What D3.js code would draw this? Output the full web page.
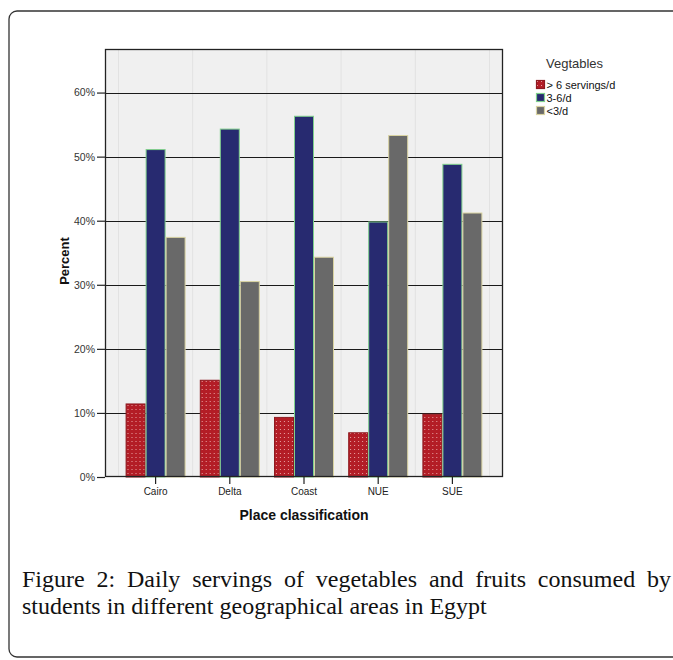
<!DOCTYPE html>
<html>
<head>
<meta charset="utf-8">
<script src="https://cdn.jsdelivr.net/npm/d3@7"></script>
<style>
  body { margin: 0; background: #fff; }
  svg { display: block; }
</style>
</head>
<body>
<div id="chart"></div>
<script>
// Data
const places = ["Cairo", "Delta", "Coast", "NUE", "SUE"];
const seriesNames = ["> 6 servings/d", "3-6/d", "<3/d"];
const overSix = [11.4, 15.1, 9.3, 6.9, 9.8];
const threeToSix = [51.1, 54.3, 56.3, 39.8, 48.8];
const underThree = [37.4, 30.5, 34.3, 53.3, 41.2];
const yTicks = [0, 10, 20, 30, 40, 50, 60];
const legendTitle = "Vegtables";
const xTitle = "Place classification";
const yTitle = "Percent";
const captionLines = [
    "Figure 2: Daily servings of vegetables and fruits consumed by",
    "students in different geographical areas in Egypt"
];

const seriesValues = [overSix, threeToSix, underThree];
const fills = ["url(#dots)", "#272a70", "#696969"];
const strokes = ["#8c1a20", "#7fd08c", "#d9d3a2"];

const W = 673, H = 660;
const plot = {left: 105, right: 503, top: 49, bottom: 477};
const sans = "'Liberation Sans', Arial, sans-serif";

const svg = d3.select("#chart").append("svg")
    .attr("width", W)
    .attr("height", H);

// dotted red pattern
const defs = svg.append("defs");
const pat = defs.append("pattern")
    .attr("id", "dots")
    .attr("patternUnits", "userSpaceOnUse")
    .attr("width", 4)
    .attr("height", 4);
pat.append("rect").attr("width", 4).attr("height", 4).attr("fill", "#b31d26");
pat.append("rect").attr("x", 1).attr("y", 1).attr("width", 1).attr("height", 1).attr("fill", "#e9a3a3");

// outer frame
svg.append("rect")
    .attr("x", 9).attr("y", 11)
    .attr("width", 700).attr("height", 646)
    .attr("rx", 8)
    .attr("fill", "none")
    .attr("stroke", "#333")
    .attr("stroke-width", 1.3);

// scales
const x0 = d3.scaleBand()
    .domain(places)
    .range([plot.left, plot.right])
    .paddingInner(0)
    .paddingOuter(0.182);

const x1 = d3.scaleBand()
    .domain(seriesNames)
    .range([0, x0.bandwidth()])
    .paddingInner(0)
    .paddingOuter(0.355);

const y = d3.scaleLinear()
    .domain([0, 66.8])
    .range([plot.bottom, plot.top]);

// plot background
svg.append("rect")
    .attr("x", plot.left).attr("y", plot.top)
    .attr("width", plot.right - plot.left)
    .attr("height", plot.bottom - plot.top)
    .attr("fill", "#f0f0f0");

// faint vertical lines at band edges
const edges = places.map(p => x0(p)).concat([x0(places[places.length - 1]) + x0.bandwidth()]);
svg.append("g").selectAll("line")
    .data(edges)
    .enter().append("line")
    .attr("x1", d => d).attr("x2", d => d)
    .attr("y1", plot.top).attr("y2", plot.bottom)
    .attr("stroke", "#e2e2e2")
    .attr("stroke-width", 1);

// horizontal grid lines
svg.append("g").selectAll("line")
    .data(yTicks.filter(d => d > 0))
    .enter().append("line")
    .attr("x1", plot.left).attr("x2", plot.right)
    .attr("y1", d => Math.round(y(d)) + 0.5).attr("y2", d => Math.round(y(d)) + 0.5)
    .attr("stroke", "#1a1a1a")
    .attr("stroke-width", 1);

// bars
const groups = svg.append("g").selectAll("g")
    .data(places)
    .enter().append("g")
    .attr("transform", d => `translate(${x0(d)},0)`);

groups.selectAll("rect")
    .data((p, i) => seriesNames.map((s, j) => ({series: s, j: j, value: seriesValues[j][i]})))
    .enter().append("rect")
    .attr("x", d => x1(d.series) + 0.5)
    .attr("width", x1.bandwidth() - 1)
    .attr("y", d => y(d.value))
    .attr("height", d => plot.bottom - y(d.value))
    .attr("fill", d => fills[d.j])
    .attr("stroke", d => strokes[d.j])
    .attr("stroke-width", 1);

// plot border
svg.append("rect")
    .attr("x", plot.left + 0.5).attr("y", plot.top + 0.5)
    .attr("width", plot.right - plot.left - 1)
    .attr("height", plot.bottom - plot.top - 1)
    .attr("fill", "none")
    .attr("stroke", "#222")
    .attr("stroke-width", 1.3);

// y axis
const yAxis = svg.append("g")
    .attr("transform", `translate(${plot.left},0)`)
    .call(d3.axisLeft(y).tickValues(yTicks).tickSize(8).tickPadding(2).tickFormat(d => d + "%"));
yAxis.select(".domain").remove();
yAxis.selectAll(".tick line").attr("stroke", "#222").attr("stroke-width", 1.2);
yAxis.selectAll("text")
    .attr("fill", "#333")
    .style("font-family", sans)
    .style("font-size", "10.5px");

// x axis
const xAxis = svg.append("g")
    .attr("transform", `translate(0,${plot.bottom})`)
    .call(d3.axisBottom(x0).tickSize(7).tickPadding(4));
xAxis.select(".domain").remove();
xAxis.selectAll(".tick line").attr("stroke", "#222").attr("stroke-width", 1.2);
xAxis.selectAll("text")
    .attr("fill", "#222")
    .style("font-family", sans)
    .style("font-size", "10px");

// axis titles
svg.append("text")
    .attr("transform", `translate(66,261) rotate(-90)`)
    .attr("text-anchor", "middle")
    .attr("dominant-baseline", "middle")
    .style("font-family", sans)
    .style("font-size", "13px")
    .style("font-weight", "bold")
    .attr("fill", "#111")
    .text(yTitle);

svg.append("text")
    .attr("x", (plot.left + plot.right) / 2)
    .attr("y", 520)
    .attr("text-anchor", "middle")
    .style("font-family", sans)
    .style("font-size", "14px")
    .style("font-weight", "bold")
    .attr("fill", "#111")
    .text(xTitle);

// legend
const legend = svg.append("g").attr("transform", "translate(536,0)");
legend.append("text")
    .attr("x", 10).attr("y", 68)
    .style("font-family", sans)
    .style("font-size", "13px")
    .attr("fill", "#333")
    .text(legendTitle);

const items = legend.selectAll(".item")
    .data(seriesNames)
    .enter().append("g")
    .attr("class", "item")
    .attr("transform", (d, i) => `translate(0,${80 + i * 13})`);
items.append("rect")
    .attr("x", 0.5).attr("y", 0.5)
    .attr("width", 8).attr("height", 8)
    .attr("fill", (d, i) => fills[i])
    .attr("stroke", (d, i) => strokes[i])
    .attr("stroke-width", 1.2);
items.append("text")
    .attr("x", 10.5).attr("y", 8.5)
    .style("font-family", sans)
    .style("font-size", "11px")
    .attr("fill", "#111")
    .text(d => d);

// caption, first line justified word by word
const capFont = "'Liberation Serif', 'Times New Roman', serif";
const capLeft = 22, capRight = 671;
const probe = svg.append("text")
    .style("font-family", capFont)
    .style("font-size", "20px")
    .text(captionLines[1]);
const capSize = 20 * 465 / probe.node().getComputedTextLength();
probe.remove();

const line1 = svg.append("text")
    .attr("y", 587)
    .style("font-family", capFont)
    .style("font-size", capSize + "px")
    .attr("fill", "#111");
const words = captionLines[0].split(" ");
const spans = words.map(w => line1.append("tspan").text(w));
const widths = spans.map(s => s.node().getComputedTextLength());
const gap = (capRight - capLeft - d3.sum(widths)) / (words.length - 1);
let cx = capLeft;
spans.forEach((s, i) => {
    s.attr("x", cx);
    cx += widths[i] + gap;
});

svg.append("text")
    .attr("x", capLeft)
    .attr("y", 614)
    .style("font-family", capFont)
    .style("font-size", capSize + "px")
    .attr("fill", "#111")
    .text(captionLines[1]);
</script>
</body>
</html>
